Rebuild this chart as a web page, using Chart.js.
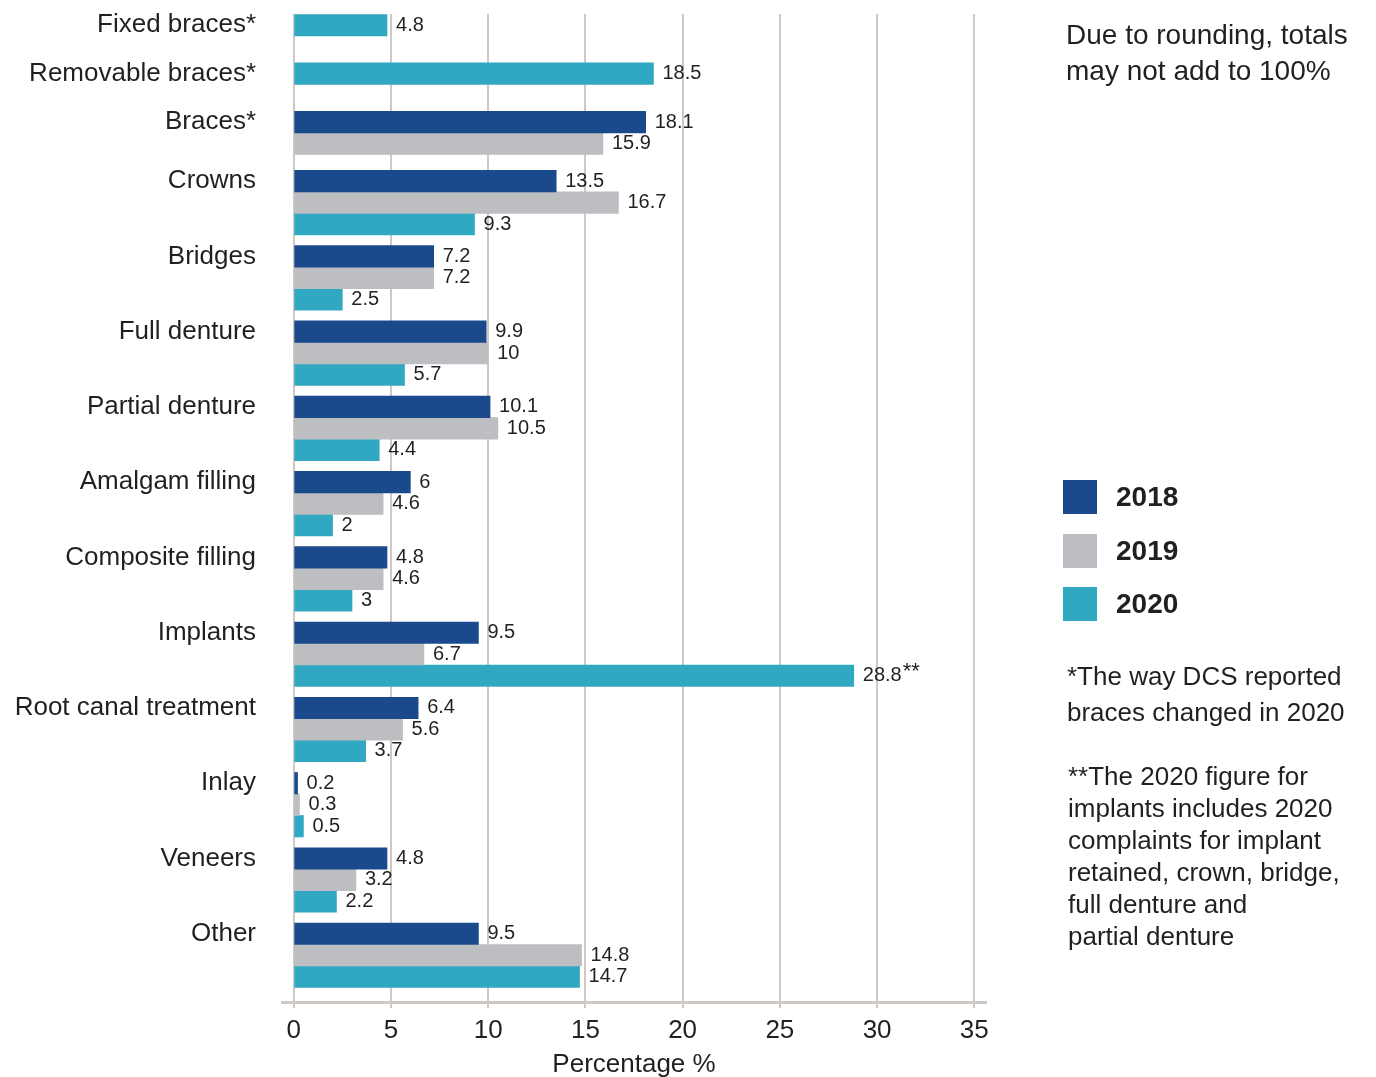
<!DOCTYPE html>
<html lang="en">
<head>
    <meta charset="UTF-8">
    <title>Complaints by treatment type</title>
    <script src="https://cdn.jsdelivr.net/npm/chart.js"></script>
    <style>
        body { margin: 0; background: #fff; font-family: "Liberation Sans", Arial, sans-serif; color: #231f20; }
        .wrap { position: relative; width: 1376px; height: 1077px; overflow: hidden; }
        .note { position: absolute; white-space: nowrap; }
        #rounding { left: 1066px; top: 17px; font-size: 28px; line-height: 36px; }
        #braces-note { left: 1067px; top: 658px; font-size: 26px; line-height: 36px; }
        #implants-note { left: 1068px; top: 760px; font-size: 26px; line-height: 32px; }
        #legend { position: absolute; left: 1063px; top: 480px; }
        #legend .item { display: flex; align-items: center; height: 34px; margin-bottom: 19.5px; }
        #legend .box { width: 34px; height: 34px; margin-right: 19px; }
        #legend .label { font-size: 28px; font-weight: bold; }
    </style>
</head>
<body>
<div class="wrap">
    <canvas id="complaintsChart" width="1376" height="1077"></canvas>

    <div class="note" id="rounding">Due to rounding, totals<br>may not add to 100%</div>
    <div id="legend"></div>
    <div class="note" id="braces-note">*The way DCS reported<br>braces changed in 2020</div>
    <div class="note" id="implants-note">**The 2020 figure for<br>implants includes 2020<br>complaints for implant<br>retained, crown, bridge,<br>full denture and<br>partial denture</div>
</div>

<script>
    // Treatment types, top to bottom
    var categories = ["Fixed braces*", "Removable braces*", "Braces*", "Crowns", "Bridges", "Full denture",
        "Partial denture", "Amalgam filling", "Composite filling", "Implants", "Root canal treatment",
        "Inlay", "Veneers", "Other"];

    // Percentage of complaints per year (null = not reported that year)
    var values2018 = [null, null, 18.1, 13.5, 7.2, 9.9, 10.1, 6, 4.8, 9.5, 6.4, 0.2, 4.8, 9.5];
    var values2019 = [null, null, 15.9, 16.7, 7.2, 10, 10.5, 4.6, 4.6, 6.7, 5.6, 0.3, 3.2, 14.8];
    var values2020 = [4.8, 18.5, null, 9.3, 2.5, 5.7, 4.4, 2, 3, 28.8, 3.7, 0.5, 2.2, 14.7];

    var years = ["2018", "2019", "2020"];
    var xTicks = [0, 5, 10, 15, 20, 25, 30, 35];

    // footnote marks shown after a value label
    var valueMarks = { "Implants|2020": "**" };

    var colors = ["#1a4a8b", "#bdbec2", "#30a8c1"];
    var textColor = "#231f20";
    var gridColor = "#d0c8c5";

    // Row layout in half-bar units: bars in a group touch, groups are spaced apart
    var ROW_STEP = 2;
    var GROUP_GAP = [0, 4.5, 4.5, 3.5];
    var DEFAULT_GAP = 3;

    var allValues = [values2018, values2019, values2020];
    var points = [[], [], []];
    var groupStart = [];
    var pos = 0;

    categories.forEach(function (name, i) {
        if (i > 0) pos += (GROUP_GAP[i] !== undefined ? GROUP_GAP[i] : DEFAULT_GAP);
        var first = true;
        allValues.forEach(function (vals, s) {
            if (vals[i] === null) return;
            if (first) {
                groupStart.push(pos);
                first = false;
            } else {
                pos += ROW_STEP;
            }
            points[s].push({ x: vals[i], y: pos, cat: i });
        });
    });

    var lastRow = pos;

    // Value labels to the right of each bar
    var valueLabels = {
        id: "valueLabels",
        afterDatasetsDraw: function (chart) {
            var ctx = chart.ctx;
            ctx.save();
            ctx.fillStyle = textColor;
            ctx.textBaseline = "middle";
            ctx.textAlign = "left";
            chart.data.datasets.forEach(function (ds, d) {
                var meta = chart.getDatasetMeta(d);
                meta.data.forEach(function (bar, j) {
                    var pt = ds.data[j];
                    var text = String(pt.x);
                    var x = bar.x + 9;
                    ctx.font = "20px 'Liberation Sans', Arial, sans-serif";
                    ctx.fillText(text, x, bar.y);
                    var mark = valueMarks[categories[pt.cat] + "|" + ds.label];
                    if (mark) {
                        var w = ctx.measureText(text).width;
                        ctx.font = "22px 'Liberation Sans', Arial, sans-serif";
                        ctx.fillText(mark, x + w + 1, bar.y - 4);
                    }
                });
            });
            ctx.restore();
        }
    };

    // keep the plot area exactly where the layout padding puts it
    function noLabelPadding(scale) {
        scale.paddingTop = 0;
        scale.paddingBottom = 0;
        scale.paddingLeft = 0;
        scale.paddingRight = 0;
    }

    var ctx = document.getElementById("complaintsChart").getContext("2d");
    var chart = new Chart(ctx, {
        type: "bar",
        data: {
            datasets: years.map(function (year, s) {
                return {
                    label: year,
                    data: points[s],
                    backgroundColor: colors[s],
                    borderWidth: 0,
                    grouped: false,
                    categoryPercentage: 1,
                    barPercentage: 1
                };
            })
        },
        options: {
            indexAxis: "y",
            responsive: false,
            animation: false,
            events: [],
            layout: { padding: { left: 10, top: 14, right: 390, bottom: 0 } },
            plugins: {
                legend: { display: false },
                tooltip: { enabled: false }
            },
            scales: {
                y: {
                    type: "linear",
                    reverse: true,
                    offset: false,
                    min: -1.05,
                    max: lastRow + 2.35,
                    grid: { display: false, drawTicks: false, offset: false },
                    border: { display: false },
                    afterBuildTicks: function (scale) {
                        scale.ticks = groupStart.map(function (v) { return { value: v }; });
                    },
                    afterFit: function (scale) {
                        scale.width = 272;
                        noLabelPadding(scale);
                    },
                    ticks: {
                        autoSkip: false,
                        padding: 26,
                        color: textColor,
                        font: { family: "'Liberation Sans', Arial, sans-serif", size: 26 },
                        callback: function (value, index) { return categories[index]; }
                    }
                },
                x: {
                    type: "linear",
                    min: -0.6,
                    max: 35.6,
                    afterBuildTicks: function (scale) {
                        scale.ticks = xTicks.map(function (v) { return { value: v }; });
                    },
                    afterFit: function (scale) {
                        scale.height = 75;
                        noLabelPadding(scale);
                    },
                    grid: { color: gridColor, lineWidth: 2, tickLength: 6, drawTicks: true },
                    border: { display: true, color: gridColor, width: 3 },
                    ticks: {
                        padding: 7,
                        color: textColor,
                        maxRotation: 0,
                        font: { family: "'Liberation Sans', Arial, sans-serif", size: 26 }
                    },
                    title: {
                        display: true,
                        text: "Percentage %",
                        color: textColor,
                        padding: { top: 0, bottom: -3 },
                        font: { family: "'Liberation Sans', Arial, sans-serif", size: 26 }
                    }
                }
            }
        },
        plugins: [valueLabels]
    });

    // Legend built from the datasets
    var legend = document.getElementById("legend");
    chart.data.datasets.forEach(function (ds) {
        var item = document.createElement("div");
        item.className = "item";
        item.innerHTML = '<div class="box" style="background:' + ds.backgroundColor + '"></div>' +
            '<div class="label">' + ds.label + '</div>';
        legend.appendChild(item);
    });
</script>
</body>
</html>
